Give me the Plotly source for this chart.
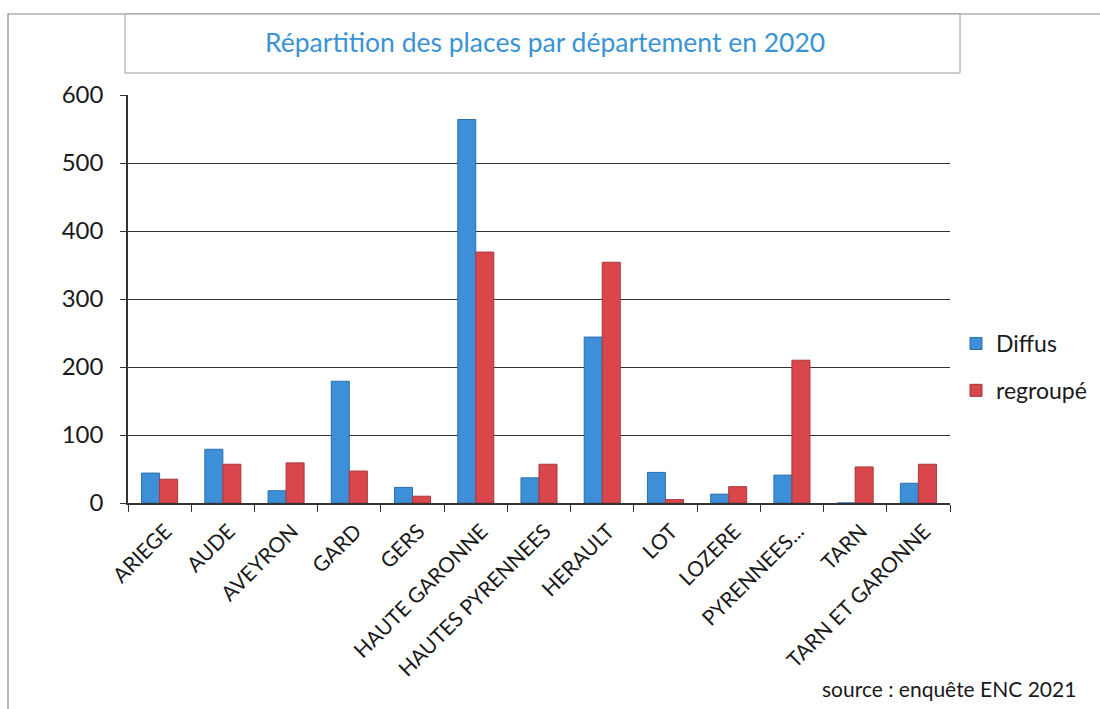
import plotly.graph_objects as go

categories = ["ARIEGE", "AUDE", "AVEYRON", "GARD", "GERS", "HAUTE GARONNE",
              "HAUTES PYRENNEES", "HERAULT", "LOT", "LOZERE", "PYRENNEES...",
              "TARN", "TARN ET GARONNE"]
diffus = [44, 79, 18, 179, 23, 564, 37, 244, 45, 13, 41, 0, 29]
regroupe = [35, 57, 59, 47, 10, 369, 57, 354, 5, 24, 210, 53, 57]
y_ticks = [0, 100, 200, 300, 400, 500, 600]

W, H = 1100, 709
L, R, T, B = 128, 950, 95, 503

def px(x):
    return (x - L) / (R - L)

def py(y):
    return (B - y) / (B - T)

FONT = "Lato, 'Noto Sans', sans-serif"

fig = go.Figure()
fig.add_trace(go.Bar(x=categories, y=diffus, name="Diffus",
                     marker=dict(color="#3d8fd8", line=dict(color="#2d6eaa", width=1)),
                     legendgroup="a"))
fig.add_trace(go.Bar(x=categories, y=regroupe, name="regroupé",
                     marker=dict(color="#d9474d", line=dict(color="#a8383d", width=1)),
                     legendgroup="b"))

shapes = [
    dict(type="rect", xref="paper", yref="paper",
         x0=px(8), x1=px(1108), y0=py(720), y1=py(14),
         line=dict(color="#8a8a8a", width=1.2), layer="below"),
    dict(type="rect", xref="paper", yref="paper",
         x0=px(125), x1=px(960), y0=py(73), y1=py(14),
         line=dict(color="#9a9a9a", width=1), fillcolor="white", layer="below"),
]

fig.update_layout(
    width=W, height=H,
    margin=dict(l=L, r=W - R, t=T, b=H - B, pad=0, autoexpand=False),
    paper_bgcolor="white", plot_bgcolor="white",
    barmode="group", bargap=0.43, bargroupgap=0.0,
    font=dict(family=FONT, color="#1a1a1a"),
    showlegend=True,
    legend=dict(x=px(956), y=py(367), xanchor="left", yanchor="middle",
                font=dict(size=23, family=FONT, color="#1a1a1a"),
                tracegroupgap=14, itemwidth=30, bgcolor="rgba(0,0,0,0)"),
    shapes=shapes,
    annotations=[
        dict(text="Répartition des places par département en 2020",
             xref="paper", yref="paper", x=px(545), y=py(42),
             xanchor="center", yanchor="middle", showarrow=False,
             font=dict(size=26.5, color="#3a93d3", family=FONT)),
        dict(text="source : enquête ENC 2021",
             xref="paper", yref="paper", x=px(1078), y=py(688),
             xanchor="right", yanchor="middle", showarrow=False,
             font=dict(size=21, color="#1a1a1a", family=FONT)),
    ],
)

fig.update_xaxes(
    type="category", tickangle=-45, tickson="boundaries",
    ticks="outside", ticklen=7, tickcolor="#333", tickwidth=1.2,
    showline=True, linecolor="#333", linewidth=1.5,
    tickfont=dict(size=21, family=FONT, color="#1a1a1a"),
    ticklabelstandoff=6, ticklabelshift=6,
    showgrid=False,
)
fig.update_yaxes(
    range=[0, 600], tickvals=y_ticks, ticktext=[str(v) for v in y_ticks],
    ticks="outside", ticklen=6, tickcolor="#333",
    showline=True, linecolor="#333", linewidth=1.5,
    showgrid=True, gridcolor="#333", gridwidth=1.4,
    zeroline=False,
    tickfont=dict(size=24, family=FONT, color="#1a1a1a"),
    ticklabelstandoff=12,
)

fig.write_html("out.html", config={"displayModeBar": False},
               post_script="document.body.style.margin='0px';")
